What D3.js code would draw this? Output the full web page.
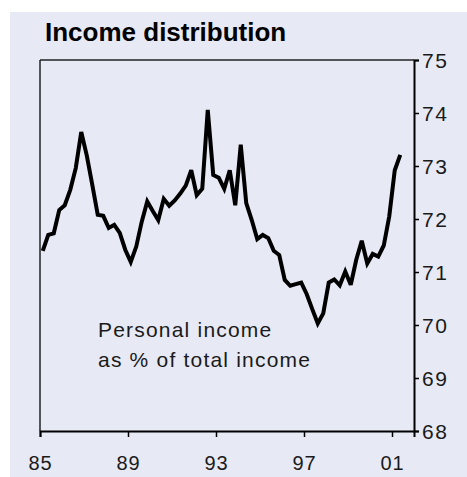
<!DOCTYPE html>
<html>
<head>
<meta charset="utf-8">
<script src="https://cdn.jsdelivr.net/npm/d3@7"></script>
<style>
  html, body { margin: 0; padding: 0; background: #ffffff; }
  svg { display: block; }
</style>
</head>
<body>
<div id="chart"></div>
<script>
(function() {
    // quarterly series, first quarter 1985 Q1 (personal income as % of total income)
    const startYear = 1985;
    const incomeShare = [
        71.40, 71.70, 71.73, 72.17, 72.26, 72.55, 72.96, 73.64,
        73.20, 72.65, 72.08, 72.06, 71.83, 71.89, 71.74, 71.42,
        71.19, 71.48, 71.95, 72.33, 72.15, 71.98, 72.38, 72.25,
        72.35, 72.48, 72.63, 72.92, 72.45, 72.57, 74.06, 72.83,
        72.78, 72.57, 72.92, 72.26, 73.40, 72.30, 71.98, 71.62,
        71.70, 71.64, 71.40, 71.32, 70.85, 70.74, 70.77, 70.80,
        70.58, 70.30, 70.03, 70.22, 70.80, 70.86, 70.75, 71.01,
        70.76, 71.23, 71.59, 71.16, 71.34, 71.29, 71.50, 72.05,
        72.92, 73.21
    ];
    const xTickYears = [1985, 1989, 1993, 1997, 2001];
    const xTickLabels = ["85", "89", "93", "97", "01"];
    const yTicks = [68, 69, 70, 71, 72, 73, 74, 75];
    const titleText = "Income distribution";
    const noteLines = ["Personal income", "as % of total income"];

    const colors = { panel: "#e7e9f5", ink: "#000000", text: "#1a1a1a" };
    const font = '"Liberation Sans", Arial, sans-serif';

    const W = 467, H = 477;
    const plot = { left: 40, right: 414, top: 60, bottom: 431 };

    const svg = d3.select("#chart").append("svg")
        .attr("width", W)
        .attr("height", H);

    svg.append("rect")
        .attr("x", 10).attr("y", 12)
        .attr("width", W - 10).attr("height", H - 12)
        .attr("fill", colors.panel);

    const x = d3.scaleLinear().domain([1985, 2002]).range([plot.left, plot.right]);
    const y = d3.scaleLinear().domain([68, 75]).range([plot.bottom, plot.top]);

    // frame: top and left thin
    svg.append("line")
        .attr("x1", plot.left).attr("x2", plot.right)
        .attr("y1", plot.top).attr("y2", plot.top)
        .attr("stroke", "#222").attr("stroke-width", 1.5);
    svg.append("line")
        .attr("x1", plot.left).attr("x2", plot.left)
        .attr("y1", plot.top).attr("y2", plot.bottom)
        .attr("stroke", "#222").attr("stroke-width", 1.5);

    // right axis
    const yAxis = svg.append("g")
        .attr("transform", `translate(${plot.right},0)`)
        .call(d3.axisRight(y).tickValues(yTicks).tickSize(5).tickPadding(3).tickFormat(d3.format("d")));
    yAxis.select(".domain").attr("stroke", colors.ink).attr("stroke-width", 2);
    yAxis.selectAll(".tick line").attr("stroke", colors.ink).attr("stroke-width", 1.5);
    yAxis.selectAll("text")
        .attr("font-family", font)
        .attr("font-size", "21px")
        .attr("letter-spacing", "1.5px")
        .attr("fill", colors.text)
        .attr("dy", "0.36em");

    // bottom axis
    const xAxis = svg.append("g")
        .attr("transform", `translate(0,${plot.bottom})`)
        .call(d3.axisBottom(x).tickValues(xTickYears).tickSize(6).tickPadding(19)
            .tickFormat((d, i) => xTickLabels[i]));
    xAxis.select(".domain").attr("stroke", colors.ink).attr("stroke-width", 2);
    xAxis.selectAll(".tick line").attr("stroke", colors.ink).attr("stroke-width", 1.5);
    xAxis.selectAll("text")
        .attr("font-family", font)
        .attr("font-size", "20px")
        .attr("letter-spacing", "1px")
        .attr("fill", colors.text);

    const series = incomeShare.map((v, i) => ({ t: startYear + (i + 0.5) / 4, v: v }));

    const line = d3.line()
        .x(d => x(d.t))
        .y(d => y(d.v));

    svg.append("path")
        .datum(series)
        .attr("d", line)
        .attr("fill", "none")
        .attr("stroke", colors.ink)
        .attr("stroke-width", 4)
        .attr("stroke-linejoin", "miter")
        .attr("stroke-miterlimit", 3);

    svg.append("text")
        .attr("x", 45).attr("y", 41)
        .attr("font-family", font)
        .attr("font-weight", "bold")
        .attr("font-size", "26px")
        .attr("fill", colors.ink)
        .text(titleText);

    svg.selectAll(".note")
        .data(noteLines)
        .enter().append("text")
        .attr("class", "note")
        .attr("x", 98)
        .attr("y", (d, i) => 337 + i * 30)
        .attr("font-family", font)
        .attr("font-size", "21px")
        .attr("letter-spacing", "1.2px")
        .attr("fill", colors.text)
        .text(d => d);
})();
</script>
</body>
</html>
